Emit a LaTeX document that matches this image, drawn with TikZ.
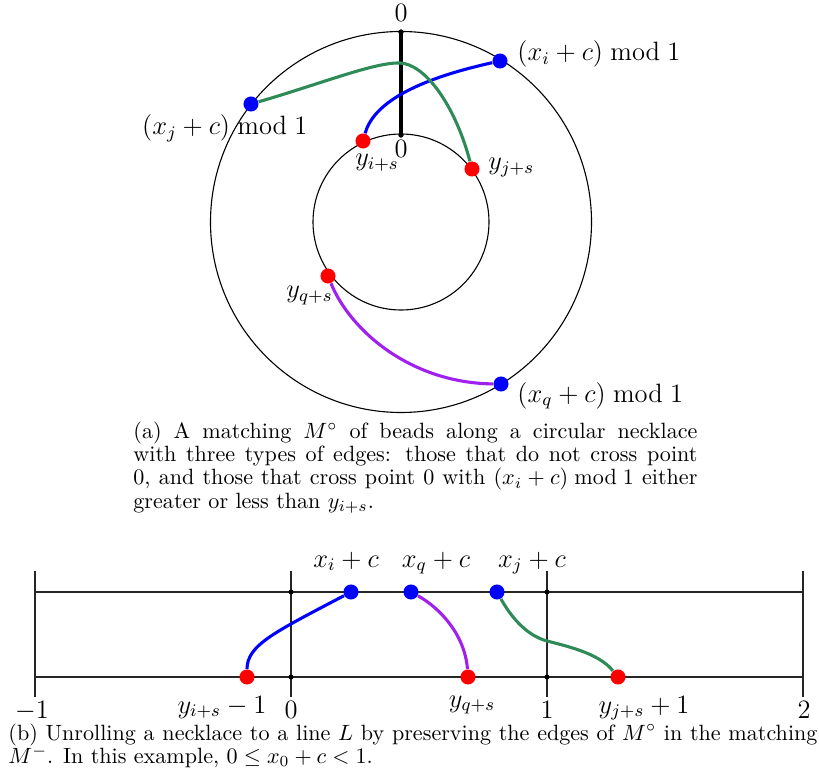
\documentclass[tikz,border=0pt]{standalone}
\usepackage{amsmath,amssymb}
\definecolor{edgeblue}{RGB}{0,0,255}
\definecolor{edgegreen}{RGB}{46,139,87}
\definecolor{edgepurple}{RGB}{160,32,240}
\definecolor{beadred}{RGB}{255,0,0}
\begin{document}
\begin{tikzpicture}[x=0.4525pt,y=-0.4525pt,
  bluebead/.style={circle,fill=edgeblue,inner sep=0pt,minimum size=6.8pt},
  redbead/.style={circle,fill=beadred,inner sep=0pt,minimum size=6.8pt},
  tick/.style={circle,fill=black,inner sep=0pt,minimum size=2.3pt},
  ring/.style={line width=0.5pt},
  axisline/.style={line width=0.5pt,black!85},
  zeroline/.style={line width=1.4pt},
  bedge/.style={line width=1.4pt,edgeblue},
  gedge/.style={line width=1.4pt,edgegreen},
  pedge/.style={line width=1.4pt,edgepurple},
  lab/.style={inner sep=0pt,font=\fontsize{12}{14}\selectfont},
  capt/.style={inner sep=0pt,align=justify,font=\fontsize{10}{10.54}\selectfont}
]
\useasboundingbox (0,0) rectangle (819,782);

% ---------- (a) circular necklace ----------
\coordinate (c) at (401,222);
\draw[ring] (c) circle[radius=190.5];
\draw[ring] (c) circle[radius=88];

\node[tick] (ztop) at (401,32) {};
\node[tick] (zbot) at (401,135) {};
\draw[zeroline] (ztop.center) -- (zbot.center);
\node[tick] at (401,32) {};
\node[tick] at (401,135) {};

\node[bluebead] (xi) at (500,61) {};
\node[bluebead] (xj) at (251,104) {};
\node[bluebead] (xq) at (501,384) {};
\node[redbead] (yi) at (363,141) {};
\node[redbead] (yj) at (472,169) {};
\node[redbead] (yq) at (328,276) {};

\draw[bedge] (yi) .. controls (372,108) and (405,82) .. (xi);
\draw[gedge] (xj) .. controls (320,84) and (375,62) .. (400,63)
                  .. controls (425,64) and (455,105) .. (yj);
\draw[pedge] (yq) .. controls (350,330) and (410,383) .. (xq);

\node[lab,anchor=base] (l0top) at (401,22) {$0$};
\node[lab,anchor=base] (l0bot) at (401,158) {$0$};
\node[lab,anchor=base west] (lxi) at (517,61) {$(x_i + c)\bmod 1$};
\node[lab,anchor=base east] (lxj) at (308,135) {$(x_j + c)\bmod 1$};
\node[lab,anchor=base west] (lxq) at (517,402) {$(x_q + c)\bmod 1$};
\node[lab,anchor=base] (lyi) at (377,166) {$y_{i+s}$};
\node[lab,anchor=base west] (lyj) at (488,170) {$y_{j+s}$};
\node[lab,anchor=base east] (lyq) at (333,298) {$y_{q+s}$};

\node[capt,anchor=base west,text width=255.2pt] (capa) at (133,438.3)
{(a) A matching $M^\circ$ of beads along a circular necklace\linebreak
with three types of edges: those that do not cross point\linebreak
0, and those that cross point 0 with $(x_i + c) \bmod 1$ either\linebreak
greater or less than $y_{i+s}$.};

% ---------- (b) unrolled line ----------
\coordinate (tl) at (35,592);
\coordinate (tr) at (803,592);
\coordinate (bl) at (35,677);
\coordinate (br) at (803,677);
\coordinate (v1t) at (35,571);
\coordinate (v1b) at (35,697);
\coordinate (v2t) at (291,571);
\coordinate (v2b) at (291,697);
\coordinate (v3t) at (547,571);
\coordinate (v3b) at (547,697);
\coordinate (v4t) at (803,571);
\coordinate (v4b) at (803,697);
\draw[axisline] (tl) -- (tr);
\draw[axisline] (bl) -- (br);
\draw[axisline] (v1t) -- (v1b);
\draw[axisline] (v2t) -- (v2b);
\draw[axisline] (v3t) -- (v3b);
\draw[axisline] (v4t) -- (v4b);
\node[tick] at (291,592) {};
\node[tick] at (291,677) {};
\node[tick] at (547,592) {};
\node[tick] at (547,677) {};

\node[bluebead] (Xi) at (351,592) {};
\node[bluebead] (Xq) at (411,592) {};
\node[bluebead] (Xj) at (497,592) {};
\node[redbead] (Yi) at (247,677) {};
\node[redbead] (Yq) at (468,677) {};
\node[redbead] (Yj) at (618,677) {};

\draw[bedge] (Yi) .. controls (247,645) and (275,632) .. (Xi);
\draw[pedge] (Xq) .. controls (440,608) and (465,635) .. (Yq);
\draw[gedge] (Xj) .. controls (510,615) and (525,635) .. (547,641)
                  .. controls (575,648) and (600,655) .. (Yj);

\node[lab,anchor=base] at (346,567) {$x_i + c$};
\node[lab,anchor=base] at (436,567) {$x_q + c$};
\node[lab,anchor=base] at (532,567) {$x_j + c$};

\node[lab,anchor=base] at (32,718) {$-1$};
\node[lab,anchor=base] at (291,718) {$0$};
\node[lab,anchor=base] at (547,718) {$1$};
\node[lab,anchor=base] at (804,718) {$2$};
\node[lab,anchor=base] at (222,713) {$y_{i+s}-1$};
\node[lab,anchor=base] at (472,707) {$y_{q+s}$};
\node[lab,anchor=base] at (644,713) {$y_{j+s}+1$};

\node[capt,anchor=base west,text width=366.1pt] (capb) at (8,740)
{(b) Unrolling a necklace to a line $L$ by preserving the edges of $M^\circ$ in the matching\linebreak
$M^-$. In this example, $0 \le x_0 + c < 1$.};
\end{tikzpicture}
\end{document}
